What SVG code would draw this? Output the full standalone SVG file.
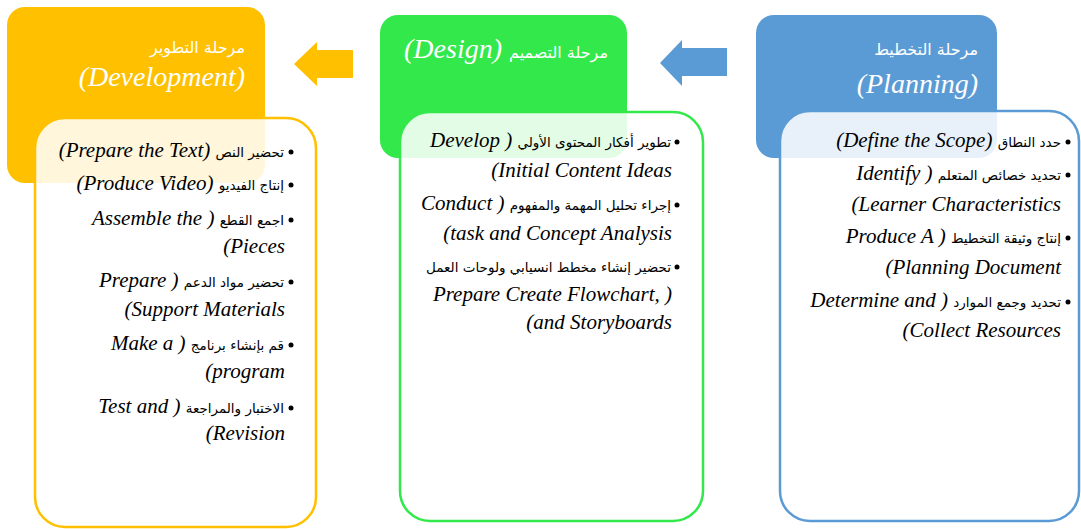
<svg xmlns="http://www.w3.org/2000/svg" width="1081" height="529" viewBox="0 0 1081 529">
<style>
.hdr{stroke:none}
.body{fill:#ffffff;fill-opacity:0.86;stroke-width:2.5}
.bul{fill:#000}
</style>
<rect width="1081" height="529" fill="#ffffff"/>
<g id="connectors">
<polygon points="294,64 317,42 317,50 353,50 353,78 317,78 317,86" fill="#FFC000"/>
<polygon points="660,63 682,40 682,48 727,48 727,76 682,76 682,86" fill="#5B9BD5"/>
</g>
<g id="development">
<rect class="hdr" x="7" y="7" width="258" height="176" rx="18" fill="#FFC000"/>
<text font-family="DejaVu Sans" font-size="16" fill="#ffffff" x="245" y="53" text-anchor="end">مرحلة التطوير</text>
<text font-family="Liberation Serif" font-style="italic" font-size="28" fill="#ffffff" x="245" y="86" text-anchor="end">(Development)</text>
<rect class="body" x="35" y="118" width="281" height="409" rx="30" stroke="#FFC000"/>
<g class="bul"><circle cx="291" cy="152" r="2.5"/><circle cx="291" cy="185" r="2.5"/><circle cx="291" cy="220" r="2.5"/><circle cx="291" cy="282" r="2.5"/><circle cx="291" cy="345" r="2.5"/><circle cx="291" cy="408" r="2.5"/></g>
<g font-family="Liberation Serif" font-style="italic" font-size="21" fill="#000000">
<text x="284" y="157" text-anchor="end">(Prepare the Text) <tspan font-family="DejaVu Sans" font-style="normal" font-size="13.5">تحضير النص</tspan></text>
<text x="284" y="190" text-anchor="end">(Produce Video) <tspan font-family="DejaVu Sans" font-style="normal" font-size="13.5">إنتاج الفيديو</tspan></text>
<text x="284" y="225" text-anchor="end">Assemble the ) <tspan font-family="DejaVu Sans" font-style="normal" font-size="13.5">اجمع القطع</tspan></text>
<text x="285" y="253" text-anchor="end">(Pieces</text>
<text x="284" y="287" text-anchor="end">Prepare ) <tspan font-family="DejaVu Sans" font-style="normal" font-size="13.5">تحضير مواد الدعم</tspan></text>
<text x="285" y="316" text-anchor="end">(Support Materials</text>
<text x="284" y="350" text-anchor="end">Make a ) <tspan font-family="DejaVu Sans" font-style="normal" font-size="13.5">قم بإنشاء برنامج</tspan></text>
<text x="285" y="378" text-anchor="end">(program</text>
<text x="284" y="413" text-anchor="end">Test and ) <tspan font-family="DejaVu Sans" font-style="normal" font-size="13.5">الاختبار والمراجعة</tspan></text>
<text x="285" y="440" text-anchor="end">(Revision</text>
</g>
</g>
<g id="design">
<rect class="hdr" x="380" y="15" width="247" height="143" rx="18" fill="#33E84A"/>
<text x="608" y="58" text-anchor="end" font-family="Liberation Serif" font-style="italic" font-size="28" fill="#ffffff">(Design) <tspan font-family="DejaVu Sans" font-style="normal" font-size="16">مرحلة التصميم</tspan></text>
<rect class="body" x="400" y="112" width="303" height="409" rx="30" stroke="#33E84A"/>
<g class="bul"><circle cx="677" cy="142" r="2.5"/><circle cx="677" cy="205" r="2.5"/><circle cx="677" cy="267" r="2.5"/></g>
<g font-family="Liberation Serif" font-style="italic" font-size="21" fill="#000000">
<text x="671" y="147" text-anchor="end">Develop ) <tspan font-family="DejaVu Sans" font-style="normal" font-size="13.5">تطوير أفكار المحتوى الأولي</tspan></text>
<text x="672" y="177" text-anchor="end">(Initial Content Ideas</text>
<text x="671" y="210" text-anchor="end">Conduct ) <tspan font-family="DejaVu Sans" font-style="normal" font-size="13.5">إجراء تحليل المهمة والمفهوم</tspan></text>
<text x="672" y="240" text-anchor="end">(task and Concept Analysis</text>
<text font-family="DejaVu Sans" font-style="normal" font-size="13.5" x="671" y="272" text-anchor="end">تحضير إنشاء مخطط انسيابي ولوحات العمل</text>
<text x="672" y="301" text-anchor="end">Prepare Create Flowchart, )</text>
<text x="672" y="329" text-anchor="end">(and Storyboards</text>
</g>
</g>
<g id="planning">
<rect class="hdr" x="756" y="15" width="241" height="143" rx="18" fill="#5B9BD5"/>
<text font-family="DejaVu Sans" font-size="16" fill="#ffffff" x="978" y="55" text-anchor="end">مرحلة التخطيط</text>
<text font-family="Liberation Serif" font-style="italic" font-size="28" fill="#ffffff" x="978" y="93" text-anchor="end">(Planning)</text>
<rect class="body" x="780" y="111" width="299" height="410" rx="30" stroke="#5B9BD5"/>
<g class="bul"><circle cx="1068" cy="142" r="2.5"/><circle cx="1068" cy="175" r="2.5"/><circle cx="1068" cy="238" r="2.5"/><circle cx="1068" cy="302" r="2.5"/></g>
<g font-family="Liberation Serif" font-style="italic" font-size="21" fill="#000000">
<text x="1061" y="147" text-anchor="end">(Define the Scope) <tspan font-family="DejaVu Sans" font-style="normal" font-size="13.5">حدد النطاق</tspan></text>
<text x="1061" y="180" text-anchor="end">Identify ) <tspan font-family="DejaVu Sans" font-style="normal" font-size="13.5">تحديد خصائص المتعلم</tspan></text>
<text x="1061" y="211" text-anchor="end">(Learner Characteristics</text>
<text x="1061" y="243" text-anchor="end">Produce A ) <tspan font-family="DejaVu Sans" font-style="normal" font-size="13.5">إنتاج وثيقة التخطيط</tspan></text>
<text x="1061" y="274" text-anchor="end">(Planning Document</text>
<text x="1061" y="307" text-anchor="end">Determine and ) <tspan font-family="DejaVu Sans" font-style="normal" font-size="13.5">تحديد وجمع الموارد</tspan></text>
<text x="1061" y="337" text-anchor="end">(Collect Resources</text>
</g>
</g>
</svg>
